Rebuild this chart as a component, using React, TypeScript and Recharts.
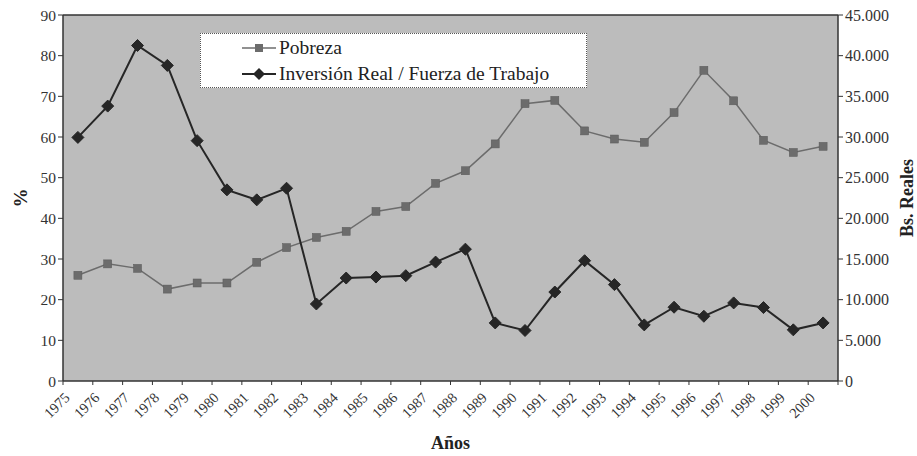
import { LineChart, Line, XAxis, YAxis, CartesianGrid, Legend, ReferenceLine } from 'recharts';

const years = [
  '1975', '1976', '1977', '1978', '1979', '1980', '1981', '1982', '1983', '1984', '1985', '1986', '1987',
  '1988', '1989', '1990', '1991', '1992', '1993', '1994', '1995', '1996', '1997', '1998', '1999', '2000',
];

// % de pobreza (eje izquierdo)
const pobreza = [
  26.0, 28.8, 27.7, 22.6, 24.1, 24.1, 29.2, 32.8, 35.3, 36.8, 41.7, 42.9, 48.6,
  51.7, 58.3, 68.2, 69.0, 61.5, 59.5, 58.7, 66.0, 76.4, 68.9, 59.2, 56.2, 57.7,
];

// Bs. reales (eje derecho)
const inversion = [
  29950, 33800, 41250, 38800, 29550, 23500, 22270, 23700, 9470, 12660, 12780, 12950, 14620,
  16210, 7140, 6210, 10940, 14790, 11850, 6900, 9070, 7960, 9600, 9030, 6290, 7140,
];

const pctTicks = [0, 10, 20, 30, 40, 50, 60, 70, 80, 90];
const bsTicks = [0, 5000, 10000, 15000, 20000, 25000, 30000, 35000, 40000, 45000];

const FONT = '"Liberation Serif", "DejaVu Serif", serif';
const TEXT = '#333';
const POB_COLOR = '#6c6c6c';
const INV_COLOR = '#262626';

// category i sits in the middle of band [i, i+1]; labels sit on the band edges
const data = years.map((year, i) => ({
  pos: i + 0.5,
  year,
  pobreza: pobreza[i],
  inversion: inversion[i],
}));
const xTicks = [...years.map((_, i) => i), years.length];

const fmtBs = (v: number) => (v === 0 ? '0' : `${v / 1000}.000`);

const YearTick = ({ x, y, payload }: any) => {
  const label = years[payload.value] ?? '';
  return (
    <g transform={`translate(${x + 4},${y + 8})`}>
      <text x={0} y={0} dy="0.35em" textAnchor="end" transform="rotate(-45)" fill={TEXT} fontSize={14.5} fontFamily={FONT}>
        {label}
      </text>
    </g>
  );
};

const SquareDot = ({ cx, cy, index }: any) => {
  if (cx == null || cy == null) return null;
  return <rect key={`s${index}`} x={cx - 4} y={cy - 4} width={8} height={8} fill={POB_COLOR} stroke="#5a5a5a" strokeWidth={0.5} />;
};

const DiamondDot = ({ cx, cy, index }: any) => {
  if (cx == null || cy == null) return null;
  const r = 6;
  return (
    <polygon
      key={`d${index}`}
      points={`${cx},${cy - r} ${cx + r},${cy} ${cx},${cy + r} ${cx - r},${cy}`}
      fill={INV_COLOR}
      stroke={INV_COLOR}
      strokeWidth={1}
      strokeLinejoin="round"
    />
  );
};

const legendItems = [
  { name: 'Pobreza', color: POB_COLOR, shape: 'square' },
  { name: 'Inversión Real / Fuerza de Trabajo', color: INV_COLOR, shape: 'diamond' },
];

const LegendBox = () => (
  <div
    style={{
      width: 387,
      height: 55,
      boxSizing: 'border-box',
      background: '#fff',
      border: '1px dotted #555',
      paddingLeft: 41,
      paddingTop: 1,
      fontFamily: FONT,
      fontSize: 19.5,
      color: '#222',
    }}
  >
    {legendItems.map((it) => (
      <div key={it.name} style={{ display: 'flex', alignItems: 'center', height: 26 }}>
        <svg width={34} height={14} style={{ marginRight: 3 }}>
          <line x1={0} y1={7} x2={34} y2={7} stroke={it.color} strokeWidth={it.shape === 'square' ? 1.5 : 2} />
          {it.shape === 'square' ? (
            <rect x={13} y={3} width={8} height={8} fill={it.color} />
          ) : (
            <polygon points="17,1 23,7 17,13 11,7" fill={it.color} />
          )}
        </svg>
        <span>{it.name}</span>
      </div>
    ))}
  </div>
);

export default function App() {
  return (
    <div style={{ position: 'absolute', left: 0, top: 0, width: 917, height: 456, background: '#fff' }}>
      <LineChart width={917} height={456} data={data} margin={{ top: 15, right: 0, bottom: 0, left: 0 }}>
        <CartesianGrid fill="#bcbcbc" horizontal={false} vertical={false} yAxisId="left" />
        <XAxis
          dataKey="pos"
          type="number"
          domain={[0, years.length]}
          ticks={xTicks}
          interval={0}
          tick={<YearTick />}
          tickSize={4}
          height={75}
          axisLine={{ stroke: '#333', strokeWidth: 1.5 }}
          tickLine={{ stroke: '#333' }}
          label={{ value: 'Años', position: 'insideBottom', offset: 7, fill: '#222', fontSize: 18, fontWeight: 'bold', fontFamily: FONT }}
        />
        <YAxis
          yAxisId="left"
          domain={[0, 90]}
          ticks={pctTicks}
          interval={0}
          width={63}
          tickSize={5}
          axisLine={{ stroke: '#333', strokeWidth: 1.5 }}
          tickLine={{ stroke: '#333' }}
          tick={{ fill: TEXT, fontSize: 15.5, fontFamily: FONT }}
          label={{ value: '%', angle: -90, position: 'insideLeft', offset: 20, fill: '#222', fontSize: 19, fontWeight: 'bold', fontFamily: FONT, style: { textAnchor: 'middle' } }}
        />
        <YAxis
          yAxisId="right"
          orientation="right"
          domain={[0, 45000]}
          ticks={bsTicks}
          interval={0}
          width={79}
          tickSize={5}
          tickFormatter={fmtBs}
          axisLine={{ stroke: '#333', strokeWidth: 1.5 }}
          tickLine={{ stroke: '#333' }}
          tick={{ fill: TEXT, fontSize: 16, fontFamily: FONT }}
          label={{ value: 'Bs. Reales', angle: -90, position: 'insideRight', offset: 10, fill: '#222', fontSize: 18, fontWeight: 'bold', fontFamily: FONT, style: { textAnchor: 'middle' } }}
        />
        <ReferenceLine yAxisId="left" y={90} stroke="#333" strokeWidth={1.5} />
        <Legend
          layout="vertical"
          align="center"
          verticalAlign="middle"
          content={() => <LegendBox />}
          wrapperStyle={{ left: 200, top: 33, width: 387, height: 55 }}
        />
        <Line
          yAxisId="left"
          type="linear"
          dataKey="pobreza"
          name="Pobreza"
          stroke={POB_COLOR}
          strokeWidth={1.5}
          dot={<SquareDot />}
          activeDot={false}
          isAnimationActive={false}
        />
        <Line
          yAxisId="right"
          type="linear"
          dataKey="inversion"
          name="Inversión Real / Fuerza de Trabajo"
          stroke={INV_COLOR}
          strokeWidth={2}
          dot={<DiamondDot />}
          activeDot={false}
          isAnimationActive={false}
        />
      </LineChart>
    </div>
  );
}
